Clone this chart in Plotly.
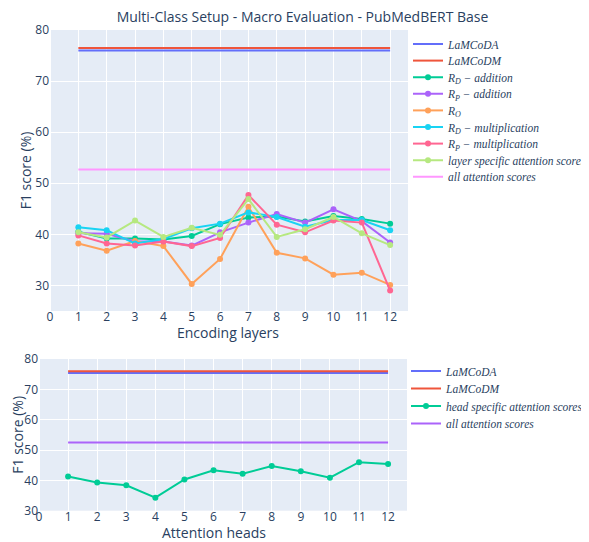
import plotly.graph_objects as go

W, H = 589, 542

# ---------------- data (top: encoding layers) ----------------
layers = [1, 2, 3, 4, 5, 6, 7, 8, 9, 10, 11, 12]
lamcoda_top = 76.0
lamcodm_top = 76.5
rd_add = [40.5, 39.2, 39.2, 39.0, 39.7, 42.0, 43.3, 43.5, 42.5, 43.6, 43.0, 42.1]
rp_add = [40.2, 40.1, 38.6, 38.6, 37.8, 40.4, 42.3, 44.0, 42.3, 44.9, 42.6, 38.4]
r_o = [38.2, 36.8, 38.7, 37.7, 30.3, 35.2, 45.4, 36.4, 35.3, 32.1, 32.5, 30.1]
rd_mul = [41.4, 40.8, 38.2, 39.1, 41.2, 42.1, 44.3, 43.4, 41.5, 42.8, 42.8, 40.8]
rp_mul = [39.8, 38.2, 37.8, 38.6, 37.7, 39.3, 47.7, 41.9, 40.4, 42.7, 42.3, 29.0]
layer_spec = [40.4, 39.4, 42.7, 39.5, 41.3, 39.9, 46.9, 39.5, 41.0, 43.4, 40.2, 37.9]
all_att_top = 52.7

# ---------------- data (bottom: attention heads) ----------------
heads = [1, 2, 3, 4, 5, 6, 7, 8, 9, 10, 11, 12]
lamcoda_bot = 75.4
lamcodm_bot = 76.0
head_spec = [41.3, 39.3, 38.4, 34.3, 40.3, 43.3, 42.2, 44.7, 43.0, 40.9, 46.0, 45.4]
all_att_bot = 52.5

ticks_x = [0, 1, 2, 3, 4, 5, 6, 7, 8, 9, 10, 11, 12]

C = ["#636efa", "#EF553B", "#00cc96", "#ab63fa", "#FFA15A",
     "#19d3f3", "#FF6692", "#B6E880", "#FF97FF"]

fig = go.Figure()
legend_specs = []  # (legend id, y pixel of item centre, x pixel)

def add(x, y, name, color, xa, ya, ypix, xpix, markers=True):
    n = len(legend_specs) + 1
    lid = "legend" if n == 1 else f"legend{n}"
    legend_specs.append((lid, ypix, xpix))
    fig.add_trace(go.Scatter(
        x=x, y=y, name=name, xaxis=xa, yaxis=ya, legend=lid, showlegend=True,
        mode="lines+markers" if markers else "lines",
        line=dict(color=color, width=2),
        marker=dict(size=6, color=color),
    ))

# top chart (legend item centres in figure pixels)
top_rows = [36, 52.6, 69.2, 85.8, 102.4, 119, 135.6, 152.2, 168.8]
add(layers, [lamcoda_top] * 12, "<i>LaMCoDA</i>", C[0], "x", "y", top_rows[0], 400, False)
add(layers, [lamcodm_top] * 12, "<i>LaMCoDM</i>", C[1], "x", "y", top_rows[1], 400, False)
add(layers, rd_add, "<i>R<sub>D</sub> − addition</i>", C[2], "x", "y", top_rows[2], 400)
add(layers, rp_add, "<i>R<sub>P</sub> − addition</i>", C[3], "x", "y", top_rows[3], 400)
add(layers, r_o, "<i>R<sub>O</sub></i>", C[4], "x", "y", top_rows[4], 400)
add(layers, rd_mul, "<i>R<sub>D</sub> − multiplication</i>", C[5], "x", "y", top_rows[5], 400)
add(layers, rp_mul, "<i>R<sub>P</sub> − multiplication</i>", C[6], "x", "y", top_rows[6], 400)
add(layers, layer_spec, "<i>layer specific attention scores</i>", C[7], "x", "y", top_rows[7], 400)
add(layers, [all_att_top] * 12, "<i>all attention scores</i>", C[8], "x", "y", top_rows[8], 400, False)

# bottom chart
bot_rows = [363, 380.5, 398, 415.5]
add(heads, [lamcoda_bot] * 12, "<i>LaMCoDA</i>", C[0], "x2", "y2", bot_rows[0], 398, False)
add(heads, [lamcodm_bot] * 12, "<i>LaMCoDM</i>", C[1], "x2", "y2", bot_rows[1], 398, False)
add(heads, head_spec, "<i>head specific attention scores</i>", C[2], "x2", "y2", bot_rows[2], 398)
add(heads, [all_att_bot] * 12, "<i>all attention scores</i>", C[3], "x2", "y2", bot_rows[3], 398, False)

legfont = dict(family="Liberation Serif", size=11.5, color="#2a3f5f")
axis_title_font = dict(size=14, color="#2a3f5f")

layout = dict(
    width=W, height=H,
    margin=dict(l=0, r=0, t=0, b=0),
    template="plotly",
    showlegend=True,
    title=dict(text="Multi-Class Setup - Macro Evaluation - PubMedBERT Base",
               x=0.5, xanchor="center", y=1 - 9 / H, yanchor="middle",
               font=dict(size=14, color="#2a3f5f")),
    xaxis=dict(domain=[42 / W, 400 / W], range=[0, 12.63], tickvals=ticks_x,
               anchor="y", automargin=False, ticklabelstandoff=-3),
    yaxis=dict(domain=[1 - 303 / H, 1 - 22 / H], range=[25, 80], dtick=10,
               anchor="x", automargin=False,
               title=dict(text="F1 score (%)", standoff=0)),
    xaxis2=dict(domain=[31 / W, 399 / W], range=[0, 12.65], tickvals=ticks_x,
                anchor="y2", automargin=False, ticklabelstandoff=-3),
    yaxis2=dict(domain=[1 - 502.7 / H, 1 - 351 / H], range=[30, 80], dtick=10,
                anchor="x2", automargin=False,
                title=dict(text="F1 score (%)", standoff=2)),
    annotations=[
        dict(text="Encoding layers", xref="paper", yref="paper",
             x=220 / W, y=1 - 324.5 / H, xanchor="center", yanchor="middle",
             showarrow=False, font=axis_title_font),
        dict(text="Attention heads", xref="paper", yref="paper",
             x=205.5 / W, y=1 - 524.5 / H, xanchor="center", yanchor="middle",
             showarrow=False, font=axis_title_font),
    ],
)
for lid, ypix, xpix in legend_specs:
    layout[lid] = dict(x=xpix / W, y=1 - ypix / H, xanchor="left", yanchor="middle",
                       font=legfont, bgcolor="rgba(255,255,255,0)", borderwidth=0,
                       visible=True)

fig.update_layout(**layout)
fig.write_html("out.html")
